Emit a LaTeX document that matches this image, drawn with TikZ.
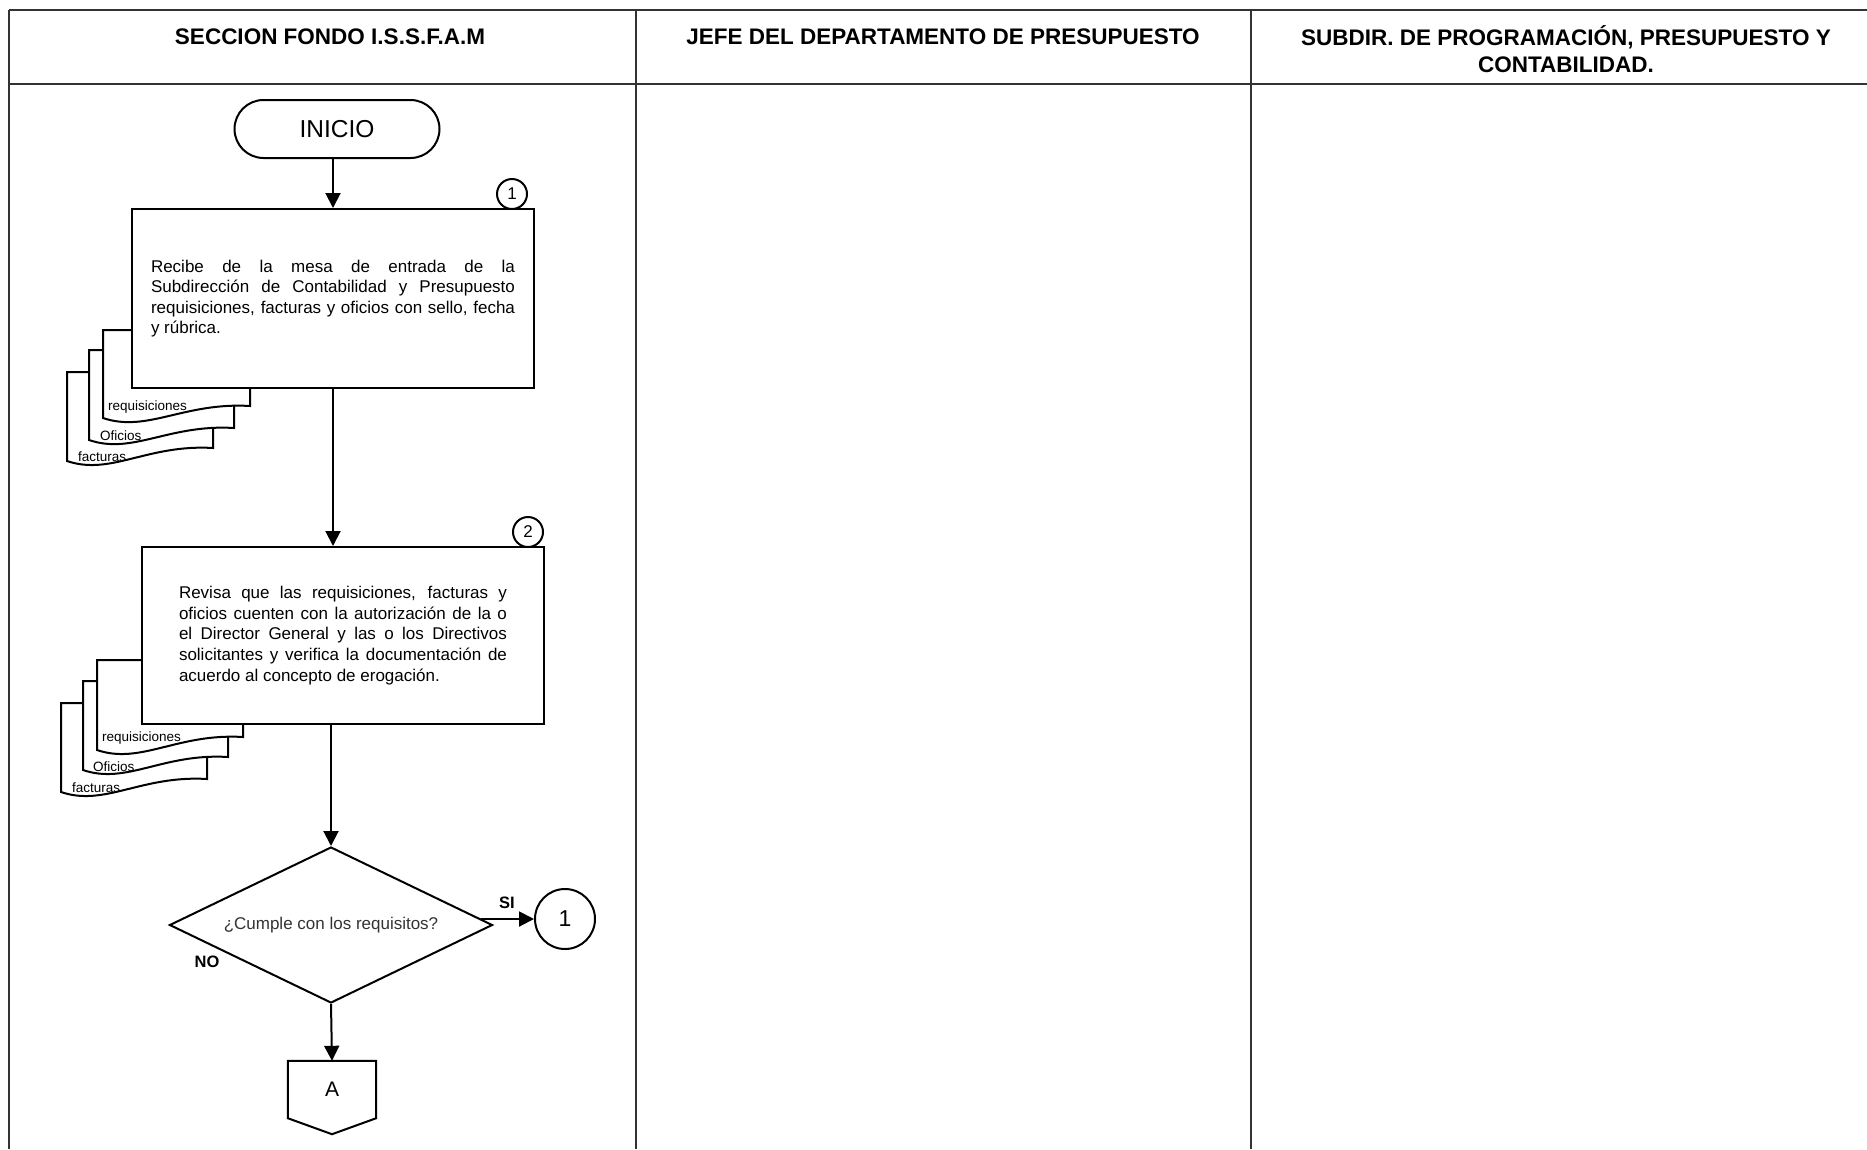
\documentclass[tikz,border=0pt]{standalone}
\usepackage{fontspec}
\setmainfont{Liberation Sans}
\usetikzlibrary{arrows.meta,shapes.geometric,calc}
\hbadness=10000
\tolerance=9999
\newcommand\docsh[5]{% L R T B RB
  \pgfmathsetmacro\mydocw{#2-#1}%
  \draw[shp] (#1,#4) -- (#1,#3) -- (#2,#3) -- (#2,#5) .. controls ({#1+0.55*\mydocw},{#5-4}) and ({#1+0.3*\mydocw},{#4+15}) .. (#1,#4) -- cycle;}
\begin{document}
\begin{tikzpicture}[x=1pt,y=-1pt,
  tline/.style={line width=1.6pt, draw=black!80},
  shp/.style={draw, line width=2pt, fill=white},
  arr/.style={line width=2pt, -{Triangle[length=15pt,width=15pt]}},
  hdr/.style={font=\fontsize{22.5}{27}\selectfont\bfseries, align=center, inner sep=0},
  body/.style={font=\fontsize{17}{20.6}\selectfont, align=justify},
  doclab/.style={font=\fontsize{13.5}{15}\selectfont, anchor=west, inner sep=0},
  smallnum/.style={shp, circle, minimum size=30pt, inner sep=0, font=\fontsize{17}{17}\selectfont},
  yesno/.style={font=\fontsize{16.5}{17}\selectfont\bfseries, inner sep=0}]
\useasboundingbox (0,0) rectangle (1867,1149);
\fill[white] (0,0) rectangle (1867,1149);
% table
\draw[tline] (9,10) -- (1867,10);
\draw[tline] (9,84) -- (1867,84);
\draw[tline] (9,10) -- (9,1149);
\draw[tline] (636,10) -- (636,1149);
\draw[tline] (1251,10) -- (1251,1149);
\node[hdr] (h1) at (330,37) {SECCION FONDO I.S.S.F.A.M};
\node[hdr] (h2) at (943,37) {JEFE DEL DEPARTAMENTO DE PRESUPUESTO};
\node[hdr] (h3) at (1566,49) {SUBDIR. DE PROGRAMACIÓN, PRESUPUESTO Y\\CONTABILIDAD.};
% start
\node[shp, rectangle, rounded corners=29pt, minimum width=205pt, minimum height=58pt, font=\fontsize{24.5}{25}\selectfont] (ini) at (337,129) {INICIO};
% documents for step 1
\docsh{67}{213}{372}{461}{448}
\node[doclab] (f1) at (78,457) {facturas};
\docsh{89}{234}{350}{440}{428}
\node[doclab] (o1) at (100,436) {Oficios};
\docsh{103}{250}{330}{418}{406}
\node[doclab] (r1) at (108,407) {requisiciones};
% step 1
\node[shp, body, text width=364pt, inner xsep=19pt, inner ysep=0pt, minimum height=179pt] (b1) at (333,298.5)
 {Recibe de la mesa de entrada de la\linebreak Subdirección de Contabilidad y Presupuesto\linebreak requisiciones, facturas y oficios con sello, fecha\linebreak y rúbrica.};
\node[smallnum] (n1) at (512,194) {1};
% documents for step 2
\docsh{61}{207}{703}{792}{779}
\node[doclab] (f2) at (72,788) {facturas};
\docsh{83}{228}{681}{770}{757}
\node[doclab] (o2) at (93,767) {Oficios};
\docsh{97}{243}{660}{750}{737}
\node[doclab] (r2) at (102,738) {requisiciones};
% step 2
\node[shp, body, text width=328pt, inner xsep=37pt, inner ysep=0pt, minimum height=177pt] (b2) at (343,635.5)
 {Revisa que las requisiciones, facturas y\linebreak oficios cuenten con la autorización de la o\linebreak el Director General y las o los Directivos\linebreak solicitantes y verifica la documentación de\linebreak acuerdo al concepto de erogación.};
\node[smallnum] (n2) at (528,532) {2};
% decision
\node[draw, diamond, line width=2pt, minimum width=323pt, minimum height=156pt, inner sep=0, aspect=2.07, text=black!80, font=\fontsize{17}{17}\selectfont] (d) at (331,925) {¿Cumple con los requisitos?};
\node[shp, circle, minimum size=60pt, inner sep=0, font=\fontsize{23}{23}\selectfont] (c1) at (565,919) {1};
\node[yesno] (si) at (507,903) {SI};
\node[yesno] (no) at (207,962) {NO};
% off-page connector
\node[minimum width=88pt, minimum height=57pt, inner sep=0, font=\fontsize{21}{21}\selectfont] (A) at (332,1089.5) {A};
\draw[line width=2pt] (A.north west) -- (A.north east) -- (A.south east) -- ($(A.south)+(0,16)$) -- (A.south west) -- cycle;
% connectors
\draw[arr] (ini.south -| b1.north) -- (b1.north);
\draw[arr] (b1.south) -- (b1.south |- b2.north);
\draw[arr] (d.north |- b2.south) -- (d.north);
\draw[arr] ($(d.east)+(-13,-6)$) -- (c1.west);
\draw[arr] (d.south) -- (A.north);
\end{tikzpicture}
\end{document}
